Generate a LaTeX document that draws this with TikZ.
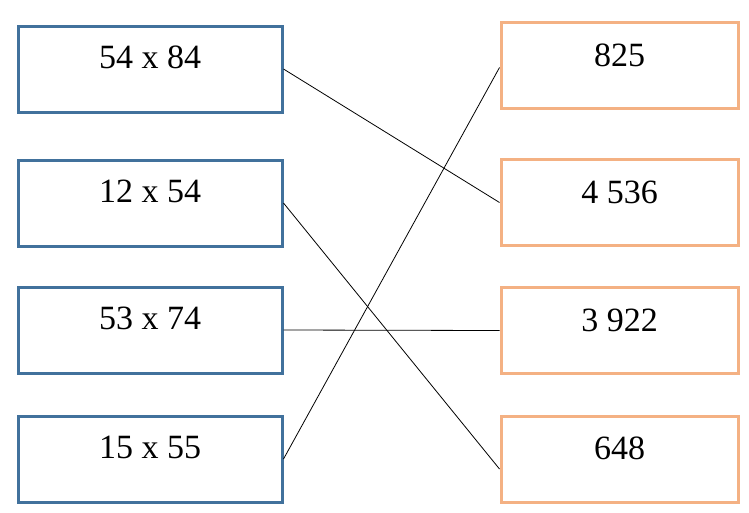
\documentclass[tikz,border=0pt]{standalone}
\usepackage{fontspec}
\setmainfont{Liberation Serif}
\usetikzlibrary{calc}
\definecolor{lblue}{HTML}{41719C}
\definecolor{rorange}{HTML}{F4B183}
\begin{document}
\begin{tikzpicture}[x=1pt,y=-1pt,
  lbox/.style={draw=lblue,line width=3pt,rectangle,minimum width=264pt,minimum height=86pt,inner sep=0pt},
  rbox/.style={draw=rorange,line width=3pt,rectangle,minimum width=237pt,minimum height=86pt,inner sep=0pt},
  txt/.style={font=\fontsize{34}{40}\selectfont,inner sep=0pt},
  conn/.style={draw=black,line width=0.8pt}]
\useasboundingbox (0,0) rectangle (749,512);
\node[lbox] (l1) at (150,69) {};
\node[lbox] (l2) at (150,203) {};
\node[lbox] (l3) at (150,330) {};
\node[lbox] (l4) at (150,459) {};
\node[rbox] (r1) at (619.5,65.5) {};
\node[rbox] (r2) at (619.5,202.5) {};
\node[rbox] (r3) at (619.5,330.5) {};
\node[rbox] (r4) at (619.5,459) {};
\node[txt] (t1) at ($(l1.north)+(0,33)$) {54 x 84};
\node[txt] (t2) at ($(l2.north)+(0,33)$) {12 x 54};
\node[txt] (t3) at ($(l3.north)+(0,33)$) {53 x 74};
\node[txt] (t4) at ($(l4.north)+(0,33)$) {15 x 55};
\node[txt] (u1) at ($(r1.north)+(0,34)$) {825};
\node[txt] (u2) at ($(r2.north)+(0,34)$) {4 536};
\node[txt] (u3) at ($(r3.north)+(0,34)$) {3 922};
\node[txt] (u4) at ($(r4.north)+(0,34)$) {648};
\draw[conn] (l1.east) -- (r2.west);
\draw[conn] (l2.east) -- ($(r4.west)+(0,10)$);
\draw[conn] (l3.east) -- (r3.west);
\draw[conn] (l4.east) -- ($(r1.west)+(0,2)$);
\end{tikzpicture}
\end{document}
